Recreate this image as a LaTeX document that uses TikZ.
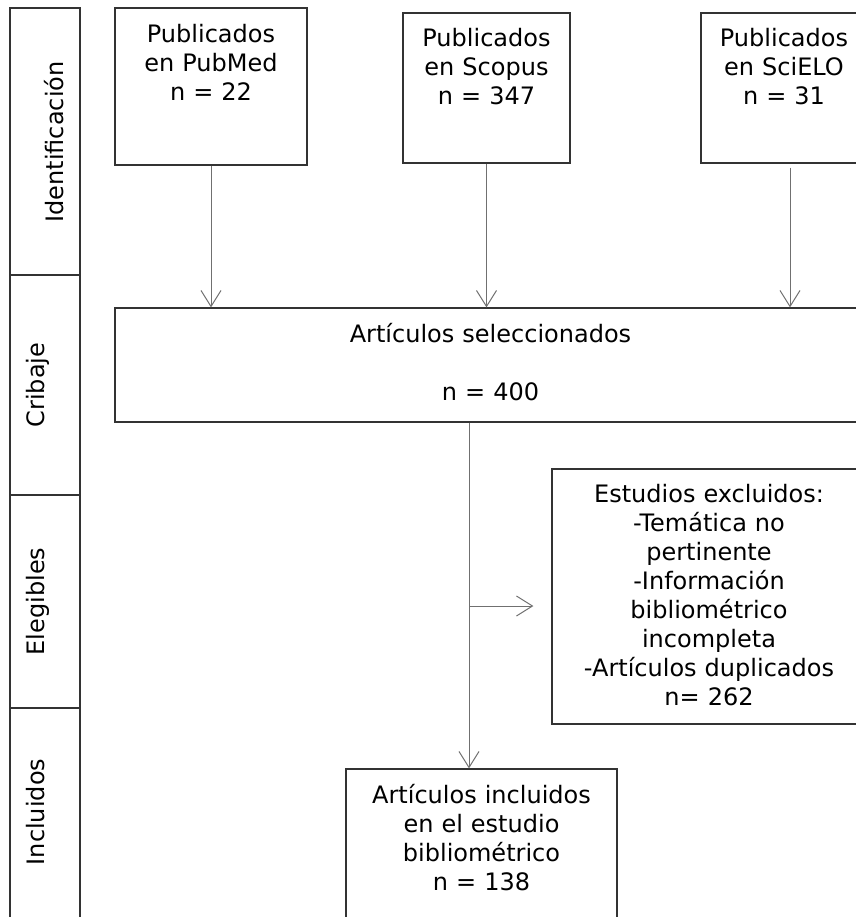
\documentclass[tikz,border=0pt]{standalone}
\usepackage{fontspec}
\setmainfont{DejaVu Sans}
\usepackage{tikz}
\usetikzlibrary{arrows.meta}

\definecolor{boxgray}{HTML}{333333}
\definecolor{linegray}{HTML}{707070}

\tikzset{
	box/.style={draw=boxgray,line width=0.6pt,inner sep=0,rectangle},
	txt/.style={font=\fontsize{12}{14.5}\selectfont,text width=150pt,align=center,anchor=base,inner sep=0},
	stagetxt/.style={font=\fontsize{12}{14.5}\selectfont,rotate=90,anchor=base,inner sep=0},
	link/.style={draw=linegray,line width=0.5pt},
	arr/.style={link,-{Straight Barb[length=8pt,width=10pt]}}
}

\begin{document}
\begin{tikzpicture}[x=0.5pt,y=-0.5pt]

		\useasboundingbox (0,0) rectangle (856,917);
		\clip (0,0) rectangle (856,917);

		%------------------------------------------------------
		\node[box,minimum width=35pt,minimum height=133.5pt] (ident) at (45,141.5) {};
		\node[stagetxt] (identtxt) at (63,142) {Identificación};

		\node[box,minimum width=35pt,minimum height=110pt] (crib) at (45,385) {};
		\node[stagetxt] (cribtxt) at (45,385) {Cribaje};

		\node[box,minimum width=35pt,minimum height=106.5pt] (eleg) at (45,601.5) {};
		\node[stagetxt] (elegtxt) at (45,601.5) {Elegibles};

		\node[box,minimum width=35pt,minimum height=108.5pt] (incl) at (45,816.5) {};
		\node[stagetxt] (incltxt) at (45,812) {Incluidos};
		%------------------------------------------------------


		%------------------------------------------------------
		\node[box,minimum width=96pt,minimum height=78.5pt] (pubmed) at (211,86.5) {};
		\node[txt] (pubmedtxt) at (211,42.7) {Publicados\\en PubMed\\n = 22};

		\node[box,minimum width=83.5pt,minimum height=75pt] (scopus) at (486.5,88) {};
		\node[txt] (scopustxt) at (486.5,46.7) {Publicados\\en Scopus\\n = 347};

		\node[box,minimum width=83pt,minimum height=75pt] (scielo) at (784,88) {};
		\node[txt] (scielotxt) at (784,46.7) {Publicados\\en SciELO\\n = 31};
		%------------------------------------------------------


		%------------------------------------------------------
		\node[box,minimum width=375.5pt,minimum height=57pt] (selected) at (490.5,365) {};
		\node[txt] (selectedtxt) at (490.5,342.3) {Artículos seleccionados\\[14.5pt]n = 400};

		\node[box,minimum width=157pt,minimum height=127.5pt] (excluded) at (709,596.5) {};
		\node[txt] (excludedtxt) at (709,502) {Estudios excluidos:\\-Temática no\\pertinente\\-Información\\bibliométrico\\incompleta\\-Artículos duplicados\\n= 262};

		\node[box,minimum width=135.5pt,minimum height=80.5pt] (included) at (481.5,849.5) {};
		\node[txt] (includedtxt) at (481.5,803.7) {Artículos incluidos\\en el estudio\\bibliométrico\\n = 138};
		%------------------------------------------------------


		%------------------------------------------------------
		\draw[arr] (pubmed.south) -- (pubmed.south |- selected.north);
		\draw[arr] (scopus.south) -- (scopus.south |- selected.north);
		\draw[arr] ([xshift=3pt,yshift=-2pt]scielo.south) -- ([xshift=3pt]scielo.south |- selected.north);

		\coordinate (split) at (469,606);
		\draw[link] (selected.south -| split) -- (split);
		\draw[arr] (split) -- (split |- included.north);
		\draw[arr] (split) -- ([xshift=-9pt]split -| excluded.west);
		%------------------------------------------------------

\end{tikzpicture}
\end{document}
